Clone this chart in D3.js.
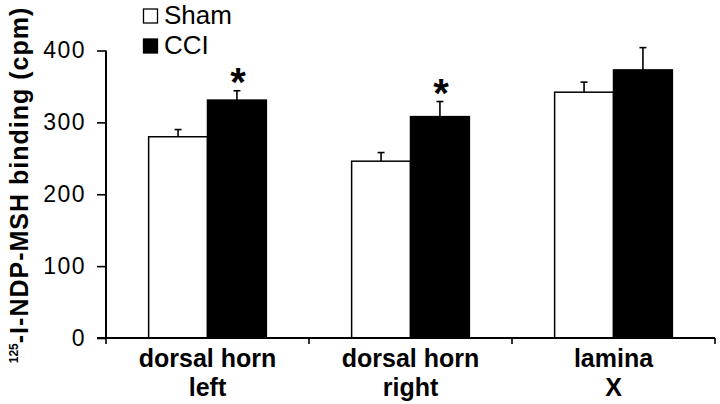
<!DOCTYPE html>
<html><head><meta charset="utf-8">
<script src="https://cdn.jsdelivr.net/npm/d3@7"></script>
<style>body{margin:0;background:#fff}svg{display:block}text{font-family:"Liberation Sans",Arial,sans-serif}</style>
</head><body>
<svg id="c" width="720" height="404"></svg>
<script>
const categories = [["dorsal horn","left"],["dorsal horn","right"],["lamina","X"]];
const seriesNames = ["Sham","CCI"];
const shamValues = [280, 246, 342];
const shamErrors = [10, 12, 14];
const cciValues = [331, 308, 373];
const cciErrors = [13, 21, 31];
const significant = [true, true, false];
const yTicks = [0, 100, 200, 300, 400];

const svg = d3.select("#c");
const x0 = 106, x1 = 715, yBase = 338, yTop = 50.5;
const catKeys = categories.map(c => c.join(" "));
const x = d3.scaleBand().domain(catKeys).range([x0, x1]).paddingInner(0.42).paddingOuter(0.21);
const xs = d3.scaleBand().domain(seriesNames).range([0, x.bandwidth()]);
const y = d3.scaleLinear().domain([0, 400]).range([yBase, yTop]);

const data = [];
catKeys.forEach((k, i) => {
  data.push({cat: k, s: "Sham", v: shamValues[i], e: shamErrors[i], sig: false});
  data.push({cat: k, s: "CCI", v: cciValues[i], e: cciErrors[i], sig: significant[i]});
});

// bars
svg.append("g").selectAll("rect").data(data).join("rect")
  .attr("x", d => x(d.cat) + xs(d.s))
  .attr("y", d => y(d.v))
  .attr("width", xs.bandwidth())
  .attr("height", d => y(0) - y(d.v))
  .attr("fill", d => d.s === "CCI" ? "#000" : "#fff")
  .attr("stroke", "#000").attr("stroke-width", 1.5);

// error bars (upper only)
const eg = svg.append("g").attr("stroke", "#000").attr("stroke-width", 1.6);
data.forEach(d => {
  const cx = x(d.cat) + xs(d.s) + xs.bandwidth() / 2;
  eg.append("line").attr("x1", cx).attr("x2", cx).attr("y1", y(d.v)).attr("y2", y(d.v + d.e));
  eg.append("line").attr("x1", cx - 3.5).attr("x2", cx + 3.5).attr("y1", y(d.v + d.e)).attr("y2", y(d.v + d.e));
});

// asterisks
svg.append("g").selectAll("text").data(data.filter(d => d.sig)).join("text")
  .attr("x", d => x(d.cat) + xs(d.s) + xs.bandwidth() / 2 + 1)
  .attr("y", d => y(d.v + d.e) + 5)
  .attr("text-anchor", "middle")
  .attr("font-size", 40).attr("font-weight", "bold")
  .text("*");

// y axis
const yAxis = d3.axisLeft(y).tickValues(yTicks).tickSize(9).tickPadding(11).tickFormat(d3.format("d"));
const gy = svg.append("g").attr("transform", `translate(${x0},0)`).call(yAxis);
gy.select(".domain").attr("d", `M0,${yTop}H0V${yBase}`).attr("stroke-width", 2);
gy.selectAll(".tick line").attr("stroke-width", 1.6);
gy.selectAll(".tick text").attr("font-size", 23).attr("letter-spacing", 1.5).attr("fill", "#000")
  .attr("font-family", "Liberation Sans, Arial, sans-serif");

// x axis line and boundary ticks
const xg = svg.append("g").attr("stroke", "#000");
xg.append("line").attr("x1", x0 - 9).attr("x2", x1).attr("y1", yBase).attr("y2", yBase).attr("stroke-width", 2);
d3.range(catKeys.length + 1).forEach(i => {
  const tx = x0 + i * x.step();
  xg.append("line").attr("x1", tx).attr("x2", tx).attr("y1", yBase).attr("y2", yBase + 6).attr("stroke-width", 1.6);
});

// category labels
const lab = svg.append("g").attr("font-size", 25).attr("font-weight", "bold").attr("text-anchor", "middle");
categories.forEach((c, i) => {
  const cx = x(catKeys[i]) + x.bandwidth() / 2;
  lab.append("text").attr("x", cx).attr("y", 367).text(c[0]);
  lab.append("text").attr("x", cx).attr("y", 396).text(c[1]);
});

// y title
const yt = svg.append("text").attr("transform", "translate(28,185) rotate(-90)")
  .attr("text-anchor", "middle").attr("font-weight", "bold").attr("font-size", 25).attr("letter-spacing", 1);
yt.append("tspan").attr("font-size", 12).attr("dy", -10).attr("letter-spacing", 0).text("125");
yt.append("tspan").attr("dy", 10).text("-I-NDP-MSH binding (cpm)");

// legend
const lg = svg.append("g");
seriesNames.forEach((s, i) => {
  lg.append("rect").attr("x", 143.5).attr("y", 9 + i * 30).attr("width", 14).attr("height", 14)
    .attr("fill", s === "CCI" ? "#000" : "#fff").attr("stroke", "#000").attr("stroke-width", 1.3);
  lg.append("text").attr("x", 164).attr("y", 23.5 + i * 30).attr("font-size", 26).text(s);
});
</script>
</body></html>
